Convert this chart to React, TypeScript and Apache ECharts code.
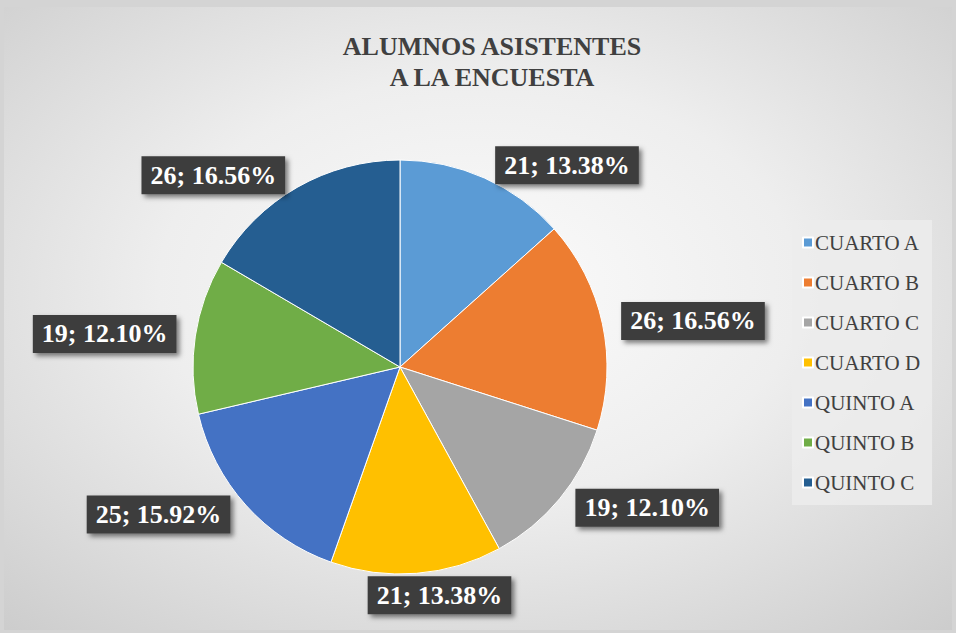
import React, { useEffect, useRef } from "react";
import * as echarts from "echarts";

const categories = ["CUARTO A", "CUARTO B", "CUARTO C", "CUARTO D", "QUINTO A", "QUINTO B", "QUINTO C"];
const values = [21, 26, 19, 21, 25, 19, 26];
const colors = ["#5B9BD5", "#ED7D31", "#A5A5A5", "#FFC000", "#4472C4", "#70AD47", "#255E91"];
const titleText = "ALUMNOS ASISTENTES\nA LA ENCUESTA";

export default function App() {
  const ref = useRef<HTMLDivElement>(null);
  useEffect(() => {
    const styleEl = document.createElement("style");
    styleEl.textContent =
      "body{margin:0} #root svg text, #root svg tspan { font-family: 'Liberation Serif', 'Times New Roman', serif !important; }";
    document.head.appendChild(styleEl);
    const chart = echarts.init(ref.current!, null, { renderer: "svg" });
    chart.setOption({
      animation: false,
      color: colors,
      backgroundColor: "#d4d4d4",
      graphic: [
        {
          type: "rect",
          shape: { x: 4, y: 7, width: 948, height: 623 },
          silent: true,
          z: -10,
          style: {
            fill: {
              type: "radial",
              x: 0.5,
              y: 0.45,
              r: 0.75,
              colorStops: [
                { offset: 0, color: "#fbfbfb" },
                { offset: 0.45, color: "#eeeeee" },
                { offset: 1, color: "#cccccc" },
              ],
            },
          },
        },
      ],
      title: {
        text: titleText,
        left: 487,
        textAlign: "center",
        top: 26,
        textStyle: {
          fontFamily: "Liberation Serif",
          fontWeight: "bold",
          fontSize: 26,
          lineHeight: 31,
          color: "#404040",
        },
      },
      legend: {
        orient: "vertical",
        left: 792,
        top: 220,
        itemWidth: 10,
        itemHeight: 10,
        itemGap: 19,
        icon: "rect",
        backgroundColor: "rgba(236,236,236,0.85)",
        padding: [12, 12, 12, 10],
        textStyle: { fontFamily: "Liberation Serif", fontSize: 21, color: "#404040", padding: [0, 0, 0, -3] },
        data: categories,
      },
      series: [
        {
          type: "pie",
          center: [400, 367],
          radius: 207,
          startAngle: 90,
          clockwise: true,
          percentPrecision: 2,
          itemStyle: { borderColor: "#ffffff", borderWidth: 1 },
          labelLine: { show: false, length: 14, length2: 0 },
          labelLayout: (p: any) => (p.dataIndex === 3 ? { dx: -55, dy: 8 } : {}),
          label: {
            show: true,
            position: "outside",
            formatter: (p: any) => `${p.value}; ${p.percent.toFixed(2)}%`,
            fontFamily: "Liberation Serif",
            fontWeight: "bold",
            fontSize: 26,
            lineHeight: 28,
            color: "#ffffff",
            backgroundColor: "#3d3d3d",
            padding: [6, 9, 4, 9],
            shadowColor: "rgba(0,0,0,0.5)",
            shadowBlur: 5,
            shadowOffsetX: 3,
            shadowOffsetY: 3,
          },
          data: categories.map((c, i) => ({ name: c, value: values[i] })),
        },
      ],
    });
    return () => {
      chart.dispose();
      styleEl.remove();
    };
  }, []);
  return <div ref={ref} style={{ width: 956, height: 633 }} />;
}
